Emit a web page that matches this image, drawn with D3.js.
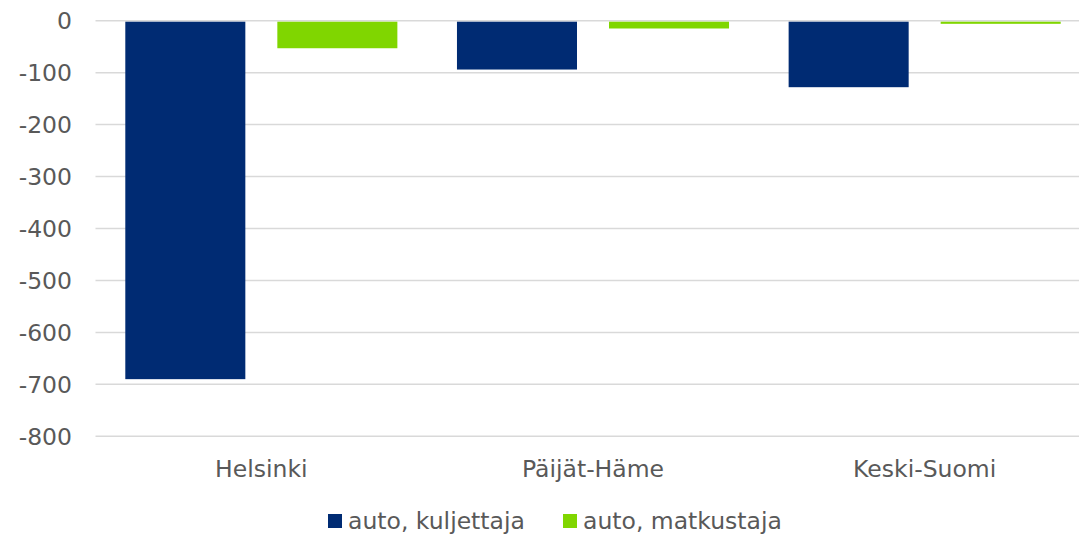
<!DOCTYPE html>
<html><head><meta charset="utf-8">
<script src="https://cdn.jsdelivr.net/npm/d3@7"></script>
<style>body{margin:0;background:#fff}svg{display:block}text{font-family:"DejaVu Sans",Verdana,sans-serif;fill:#595959}</style>
</head><body><svg id="c" width="1079" height="534"></svg>
<script>
const categories = ["Helsinki", "Päijät-Häme", "Keski-Suomi"];
const seriesNames = ["auto, kuljettaja", "auto, matkustaja"];
const kuljettaja = [-690, -94, -128];
const matkustaja = [-53, -15, -6];
const yTicks = [0, -100, -200, -300, -400, -500, -600, -700, -800];
const colors = ["#002B73", "#80D600"];

const svg = d3.select("#c");
const W = 1079, H = 534;
const plotLeft = 95.5;
const y = d3.scaleLinear().domain([0, -800]).range([20.7, 436.3]);
const x0 = d3.scaleBand().domain(categories).range([plotLeft, plotLeft + 995]).padding(0);
const x1 = d3.scaleBand().domain(seriesNames).range([0, x0.bandwidth()]).paddingInner(0.2105).paddingOuter(0.196);

// gridlines
svg.append("g").selectAll("line").data(yTicks).join("line")
  .attr("x1", plotLeft).attr("x2", W)
  .attr("y1", d => y(d)).attr("y2", d => y(d))
  .attr("stroke", "#d9d9d9").attr("stroke-width", 1.5);

// y labels
svg.append("g").selectAll("text").data(yTicks).join("text")
  .attr("x", 72).attr("y", d => y(d)).attr("dy", "0.36em")
  .attr("text-anchor", "end").attr("font-size", 23.5).text(d => d === 0 ? "0" : "-" + Math.abs(d));

const seriesData = [kuljettaja, matkustaja];
seriesData.forEach((vals, si) => {
  svg.append("g").selectAll("rect").data(vals).join("rect")
    .attr("x", (d, i) => x0(categories[i]) + x1(seriesNames[si]))
    .attr("width", x1.bandwidth())
    .attr("y", d => y(0) + 1)
    .attr("height", d => Math.max(0, y(d) - y(0) - 1))
    .attr("fill", colors[si]);
});

// category labels
svg.append("g").selectAll("text").data(categories).join("text")
  .attr("x", d => x0(d) + x0.bandwidth() / 2).attr("y", 477)
  .attr("text-anchor", "middle").attr("font-size", 23.5).text(d => d);

// legend
const leg = svg.append("g");
const legX = [328, 563];
seriesNames.forEach((s, i) => {
  leg.append("rect").attr("x", legX[i]).attr("y", 514).attr("width", 14).attr("height", 14).attr("fill", colors[i]);
  leg.append("text").attr("x", legX[i] + 20).attr("y", 529).attr("font-size", 23.5).text(s);
});
</script></body></html>
